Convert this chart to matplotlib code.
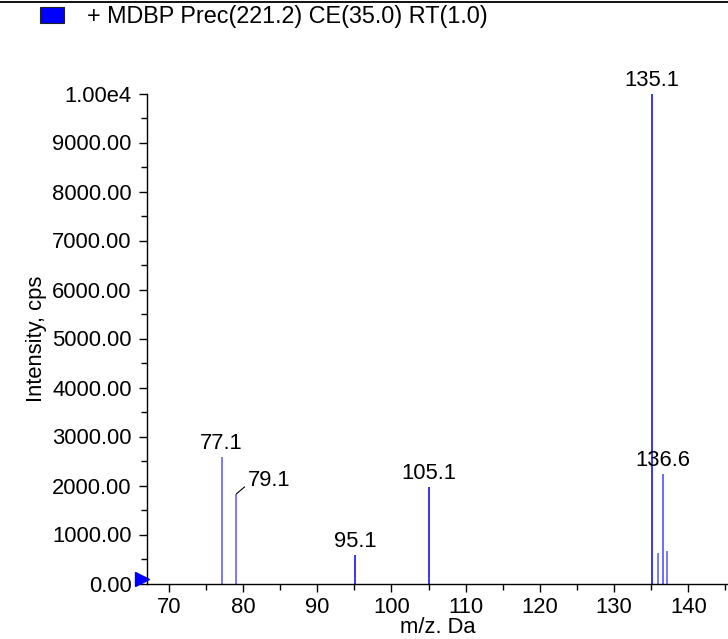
import matplotlib
matplotlib.use("Agg")
import matplotlib.pyplot as plt
from matplotlib.lines import Line2D
from matplotlib.patches import Rectangle
from matplotlib.ticker import MultipleLocator, FuncFormatter

plt.rcParams["font.family"] = ["Liberation Sans", "DejaVu Sans"]

# peak list
mz = [77.1, 79.1, 95.1, 105.1, 135.1, 135.85, 136.6, 137.1]
intensity = [2590, 1830, 580, 1975, 10000, 630, 2235, 665]
peak_colors = ["#5555ff", "#5555ff", "#0000ee", "#0000ee", "#0000ff", "#5555ff", "#4444ff", "#5555ff"]
labelled = {77.1: "77.1", 95.1: "95.1", 105.1: "105.1", 135.1: "135.1", 136.6: "136.6"}
leader_peak = (79.1, "79.1")

title = "+ MDBP Prec(221.2) CE(35.0) RT(1.0)"
x_range = (67.05, 145.35)
y_range = (0, 10000)

FS = 15.8

fig = plt.figure(figsize=(7.28, 6.39), dpi=100)
ax = fig.add_axes([147 / 728, 1 - 583.5 / 639, 1 - 147 / 728, 490 / 639])

ax.vlines(mz, 0, intensity, colors=peak_colors, linewidth=1.1, clip_on=False)

for x, y in zip(mz, intensity):
    if x in labelled:
        ax.annotate(labelled[x], (x, y), xytext=(0, 3), textcoords="offset pixels",
                    ha="center", va="bottom", fontsize=FS, annotation_clip=False)

lx = leader_peak[0]
ly = intensity[mz.index(lx)]
ax.annotate(leader_peak[1], (lx, ly), xytext=(11, 3), textcoords="offset pixels",
            ha="left", va="bottom", fontsize=FS,
            arrowprops=dict(arrowstyle="-", lw=0.8, color="black",
                            shrinkA=0, shrinkB=0, relpos=(0, 0.3)))

ax.set_xlim(*x_range)
ax.set_ylim(*y_range)
ax.xaxis.set_major_locator(MultipleLocator(10))
ax.xaxis.set_minor_locator(MultipleLocator(5))
ax.yaxis.set_major_locator(MultipleLocator(1000))
ax.yaxis.set_minor_locator(MultipleLocator(500))
ax.yaxis.set_major_formatter(FuncFormatter(lambda v, p: "1.00e4" if v >= 10000 else f"{v:.2f}"))

for side in ("top", "right"):
    ax.spines[side].set_visible(False)
ax.spines["left"].set_linewidth(1.0)
ax.spines["bottom"].set_linewidth(1.0)
ax.tick_params(axis="both", which="major", direction="out", length=6, width=1,
               labelsize=FS, pad=5)
ax.tick_params(axis="both", which="minor", direction="out", length=4, width=1)
ax.tick_params(axis="x", which="major", pad=4)

ax.set_xlabel("m/z. Da", fontsize=FS, labelpad=-1)
ax.set_ylabel("Intensity, cps", fontsize=FS, labelpad=4)

# blue marker at the origin
ax.plot([-5 / 581], [5 / 490], marker=">", markersize=10, color="#0000ff",
        transform=ax.transAxes, clip_on=False)

# header line and legend swatch
fig.add_artist(Line2D([0, 1], [1 - 1.5 / 639, 1 - 1.5 / 639], color="#111111",
                      linewidth=1.4, transform=fig.transFigure))
fig.add_artist(Rectangle((40 / 728, 1 - 23 / 639), 24 / 728, 16 / 639,
                         facecolor="#0000ff", edgecolor="#222222", linewidth=0.8,
                         transform=fig.transFigure))
fig.text(87 / 728, 1 - 17 / 639, title, fontsize=16.8, ha="left", va="center")

fig.savefig("out.png", dpi=100)
